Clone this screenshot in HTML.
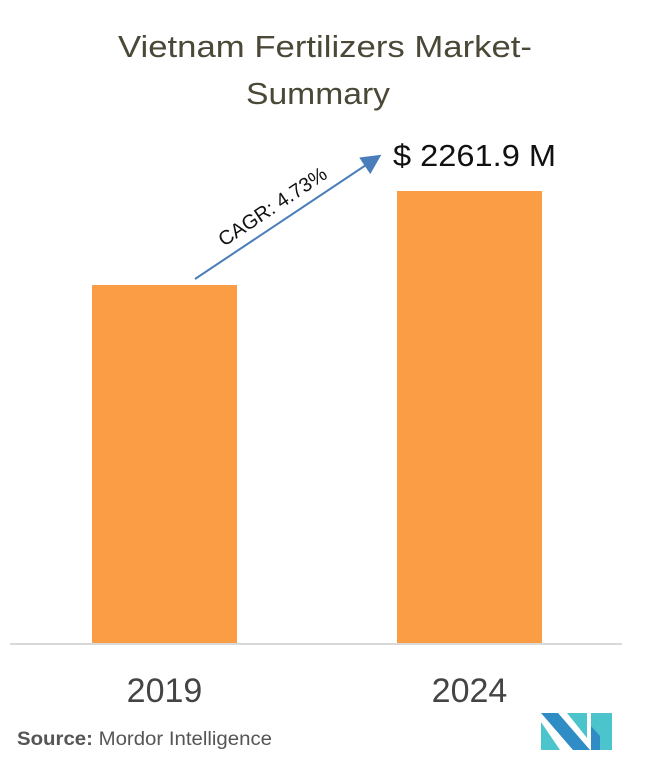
<!DOCTYPE html>
<html><head><meta charset="utf-8"><style>
body{margin:0;background:#fff;font-family:"Liberation Sans",sans-serif}
svg{display:block}
</style></head><body>
<svg width="655" height="771" viewBox="0 0 655 771">
<text x="118" y="57" textLength="414" lengthAdjust="spacingAndGlyphs" font-size="31" fill="#4b4837">Vietnam Fertilizers Market-</text>
<text x="246" y="104" textLength="144" lengthAdjust="spacingAndGlyphs" font-size="31" fill="#4b4837">Summary</text>
<g id="bars"></g>
<line x1="10" y1="644" x2="622" y2="644" stroke="#d9d9d9" stroke-width="2"/>
<defs><marker id="ah" markerWidth="10" markerHeight="10" refX="8" refY="5" orient="auto"><path d="M0,0 L10,5 L0,10 z" fill="#4a7ebb"/></marker></defs>
<line x1="195" y1="279" x2="378" y2="157" stroke="#4a7ebb" stroke-width="2" marker-end="url(#ah)"/>
<text x="0" y="0" transform="translate(224,247) rotate(-33.7)" font-size="20" fill="#111">CAGR: 4.73%</text>
<text x="393" y="166" textLength="163" lengthAdjust="spacingAndGlyphs" font-size="31" fill="#111">$ 2261.9 M</text>
<text x="17" y="745" textLength="255" lengthAdjust="spacingAndGlyphs" font-size="19" fill="#555"><tspan font-weight="bold">Source:</tspan> Mordor Intelligence</text>
<g>
<polygon points="541,713 558,713 590,750 573,750" fill="#2f8cc4"/>
<polygon points="541,722 541,750 560,750" fill="#4cc4cc"/>
<polygon points="567,713 587,713 587,738" fill="#4cc4cc"/>
<polygon points="591,713 612,713 612,750 600,750 591,740" fill="#4cc4cc"/>
<polygon points="591,726 600,736 600,750 591,750" fill="#2f8cc4"/>
</g>
</svg>
<script>
const categories=["2019","2024"];
const values=[1791.5,2261.9];
const baseY=643, plotH=452, yMax=2261.9;
const xs=[92,397], bw=145;
function y(v){return baseY-v/yMax*plotH;}
const g=document.getElementById('bars');
const ns="http://www.w3.org/2000/svg";
categories.forEach((c,i)=>{
 const r=document.createElementNS(ns,'rect');
 r.setAttribute('x',xs[i]);r.setAttribute('y',y(values[i]));
 r.setAttribute('width',bw);r.setAttribute('height',baseY-y(values[i]));
 r.setAttribute('fill','#fa9d45');
 
 
 g.appendChild(r);
 const t=document.createElementNS(ns,'text');
 t.setAttribute('x',xs[i]+bw/2);t.setAttribute('y',702);
 t.setAttribute('text-anchor','middle');t.setAttribute('font-size','34');t.setAttribute('fill','#444');
 t.textContent=c;
 
 
 g.appendChild(t);
});
</script>
</body></html>
